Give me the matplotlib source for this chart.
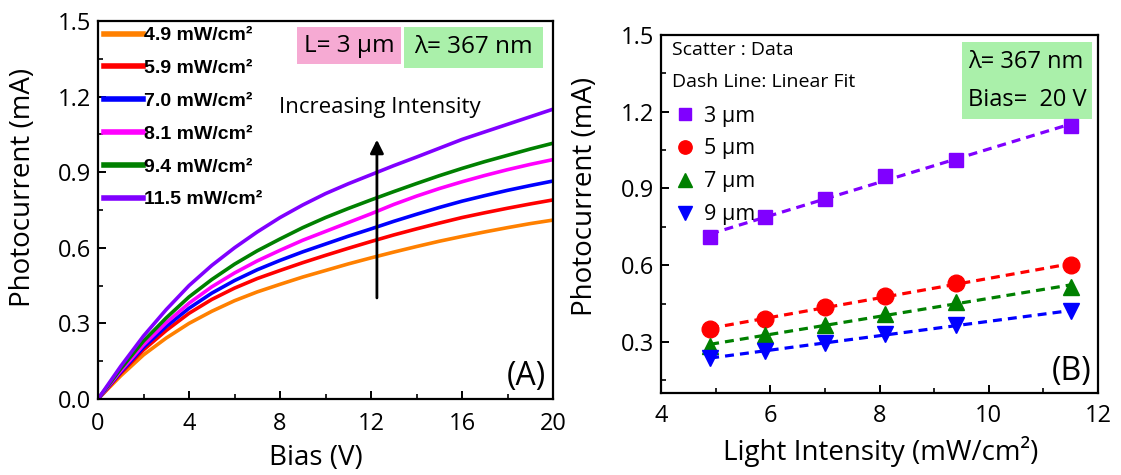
import matplotlib
matplotlib.use('Agg')
import matplotlib.pyplot as plt
from matplotlib.patches import Rectangle
import numpy as np

plt.rcParams['font.family'] = ['Open Sans', 'DejaVu Sans']

# ---- panel A: photocurrent vs bias ----
bias = [0, 1, 2, 3, 4, 5, 6, 7, 8, 9, 10, 11, 12, 13, 14, 15, 16, 17, 18, 19, 20]
i_49 = [0, 0.092, 0.175, 0.242, 0.300, 0.348, 0.390, 0.425, 0.455, 0.484, 0.510,
        0.536, 0.560, 0.583, 0.605, 0.626, 0.645, 0.663, 0.680, 0.696, 0.710]
i_59 = [0, 0.102, 0.195, 0.272, 0.340, 0.395, 0.440, 0.478, 0.510, 0.541, 0.570,
        0.598, 0.625, 0.651, 0.675, 0.698, 0.720, 0.739, 0.757, 0.774, 0.790]
i_70 = [0, 0.107, 0.205, 0.288, 0.360, 0.420, 0.470, 0.513, 0.550, 0.584, 0.615,
        0.646, 0.675, 0.705, 0.733, 0.760, 0.785, 0.807, 0.828, 0.847, 0.865]
i_81 = [0, 0.112, 0.215, 0.303, 0.380, 0.445, 0.500, 0.548, 0.590, 0.630, 0.665,
        0.700, 0.735, 0.772, 0.805, 0.835, 0.862, 0.887, 0.910, 0.931, 0.950]
i_94 = [0, 0.120, 0.230, 0.322, 0.405, 0.474, 0.535, 0.588, 0.635, 0.680, 0.720,
        0.756, 0.790, 0.823, 0.855, 0.886, 0.915, 0.942, 0.967, 0.992, 1.015]
i_115 = [0, 0.130, 0.250, 0.355, 0.450, 0.530, 0.600, 0.663, 0.720, 0.770, 0.815,
         0.854, 0.890, 0.926, 0.960, 0.995, 1.030, 1.060, 1.090, 1.120, 1.150]
curves = [i_49, i_59, i_70, i_81, i_94, i_115]
curve_labels = ['4.9 mW/cm²', '5.9 mW/cm²', '7.0 mW/cm²', '8.1 mW/cm²', '9.4 mW/cm²', '11.5 mW/cm²']
curve_colors = ['#ff8000', '#ff0000', '#0000ff', '#ff00ff', '#008000', '#8000ff']

# ---- panel B: photocurrent vs intensity at 20 V ----
intensity = [4.9, 5.9, 7.0, 8.1, 9.4, 11.5]
pc_3um = [0.71, 0.79, 0.86, 0.95, 1.01, 1.145]
pc_5um = [0.35, 0.39, 0.435, 0.48, 0.53, 0.60]
pc_7um = [0.285, 0.325, 0.365, 0.41, 0.455, 0.515]
pc_9um = [0.235, 0.265, 0.295, 0.33, 0.365, 0.42]
series_b = [pc_3um, pc_5um, pc_7um, pc_9um]
labels_b = ['3 μm', '5 μm', '7 μm', '9 μm']
markers_b = ['s', 'o', '^', 'v']
msize_b = [10, 12, 12, 12]
colors_b = ['#8000ff', '#ff0000', '#008000', '#0000ff']

fig = plt.figure(figsize=(11.21, 4.75), dpi=100)
W, H = 1121., 475.
ax1 = fig.add_axes([98/W, 1-399/H, 455/W, 378/H])
ax2 = fig.add_axes([661/W, 1-393/H, 437/W, 358/H])

tick_fs = 17
lab_fs = 20

# panel A
for y, lab, c in zip(curves, curve_labels, curve_colors):
    ax1.plot(bias, y, color=c, lw=2.6, label=lab)
ax1.set_xlim(0, 20)
ax1.set_ylim(0, 1.5)
ax1.set_xticks([0, 4, 8, 12, 16, 20])
ax1.set_xticks([2, 6, 10, 14, 18], minor=True)
ax1.set_yticks([0, 0.3, 0.6, 0.9, 1.2, 1.5])
ax1.set_yticks([0.15, 0.45, 0.75, 1.05, 1.35], minor=True)
ax1.set_yticklabels(['0.0', '0.3', '0.6', '0.9', '1.2', '1.5'])
ax1.set_xlabel('Bias (V)', fontsize=lab_fs, va='top')
ax1.set_ylabel('Photocurrent (mA)', fontsize=lab_fs)
ax1.xaxis.set_label_coords(0.479, -0.12)
ax1.yaxis.set_label_coords(-0.135, 0.56)

leg1 = ax1.legend(loc='upper left', bbox_to_anchor=(0.0, 1.0), frameon=False,
                  prop={'family': 'Liberation Sans', 'weight': 'bold', 'size': 14},
                  handlelength=2.0, handletextpad=0.05, labelspacing=0.78,
                  borderpad=0.2, borderaxespad=0.1)
for h in leg1.get_lines():
    h.set_linewidth(4)

ax1.add_patch(Rectangle((0.437, 0.886), 0.229, 0.098, transform=ax1.transAxes,
                        fc='#f6aad3', ec='none'))
ax1.add_patch(Rectangle((0.673, 0.876), 0.305, 0.108, transform=ax1.transAxes,
                        fc='#aaf0aa', ec='none'))
ax1.text(0.552, 0.935, 'L= 3 μm', transform=ax1.transAxes, fontsize=17.5,
         ha='center', va='center')
ax1.text(0.825, 0.932, 'λ= 367 nm', transform=ax1.transAxes, fontsize=17.5,
         ha='center', va='center')
ax1.text(0.62, 0.772, 'Increasing Intensity', transform=ax1.transAxes,
         fontsize=16, ha='center', va='center')
ax1.annotate('', xy=(12.26, 1.04), xytext=(12.26, 0.39),
             arrowprops=dict(arrowstyle='-|>', lw=2, color='black', mutation_scale=20))
ax1.text(0.985, 0.015, '(A)', transform=ax1.transAxes, fontsize=23,
         ha='right', va='bottom')

# panel B
for y, lab, m, ms, c in zip(series_b, labels_b, markers_b, msize_b, colors_b):
    k, b = np.polyfit(intensity, y, 1)
    xf = np.array([intensity[0], intensity[-1]])
    ax2.plot(xf, k*xf + b, color=c, lw=2.3, linestyle=(0, (2.8, 1.9)))
    ax2.plot(intensity, y, linestyle='none', marker=m, markersize=ms,
             color=c, label=lab)
ax2.set_xlim(4, 12)
ax2.set_ylim(0.1, 1.5)
ax2.set_xticks([4, 6, 8, 10, 12])
ax2.set_xticks([5, 7, 9, 11], minor=True)
ax2.set_yticks([0.3, 0.6, 0.9, 1.2, 1.5])
ax2.set_yticks([0.15, 0.45, 0.75, 1.05, 1.35], minor=True)
ax2.set_xlabel('Light Intensity (mW/cm²)', fontsize=lab_fs, va='top')
ax2.set_ylabel('Photocurrent (mA)', fontsize=lab_fs)
ax2.xaxis.set_label_coords(0.503, -0.12)
ax2.yaxis.set_label_coords(-0.143, 0.55)

ax2.text(0.025, 0.958, 'Scatter : Data', transform=ax2.transAxes, fontsize=14,
         ha='left', va='center')
ax2.text(0.025, 0.870, 'Dash Line: Linear Fit', transform=ax2.transAxes, fontsize=14,
         ha='left', va='center')
ax2.legend(loc='upper left', bbox_to_anchor=(0.03, 0.803), frameon=False,
           fontsize=15.5, handlelength=1.0, handletextpad=0.4, labelspacing=0.55,
           borderpad=0, borderaxespad=0, markerscale=0.8)

ax2.add_patch(Rectangle((0.689, 0.765), 0.2975, 0.215, transform=ax2.transAxes,
                        fc='#aaf0aa', ec='none'))
ax2.text(0.703, 0.925, 'λ= 367 nm', transform=ax2.transAxes, fontsize=17,
         ha='left', va='center')
ax2.text(0.703, 0.818, 'Bias=  20 V', transform=ax2.transAxes, fontsize=17,
         ha='left', va='center')
ax2.text(0.985, 0.015, '(B)', transform=ax2.transAxes, fontsize=23,
         ha='right', va='bottom')

for ax in (ax1, ax2):
    for s in ax.spines.values():
        s.set_linewidth(1.6)
    ax.tick_params(which='major', direction='in', length=6, width=1.4,
                   labelsize=tick_fs, pad=5, top=False, right=False)
    ax.tick_params(which='minor', direction='in', length=3.5, width=1.2,
                   top=False, right=False)
ax1.tick_params(axis='x', which='major', pad=9)
ax2.tick_params(axis='x', which='major', pad=8)

fig.savefig('out.png', dpi=100)
